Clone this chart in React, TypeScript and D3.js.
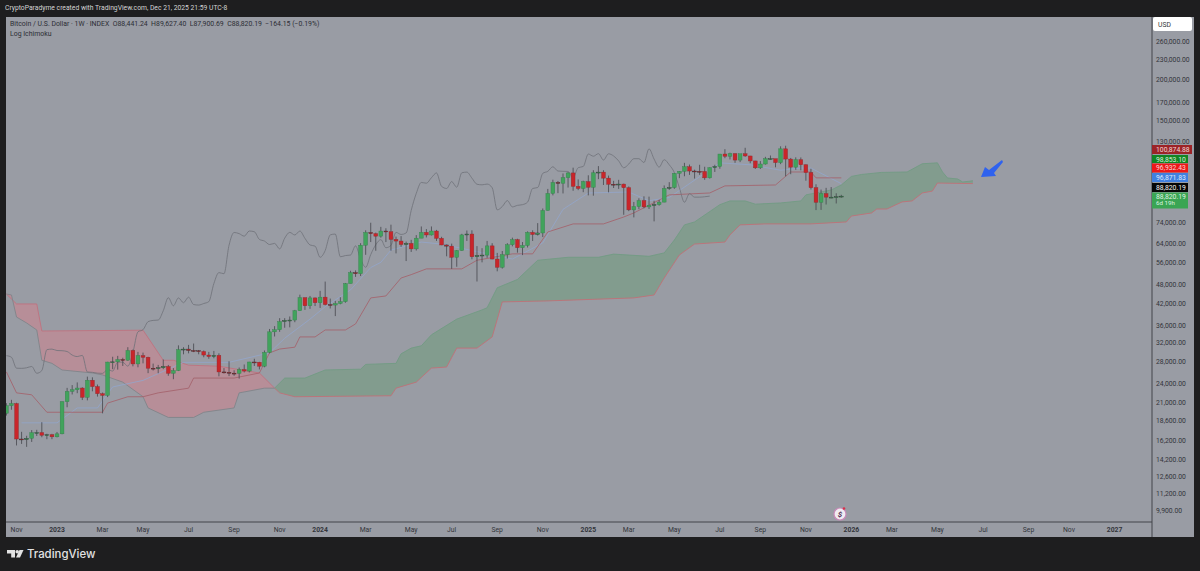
import React from "react";
import * as d3 from "d3";

// Weekly OHLC, one entry per week starting 2022-10-24 (week -10 counted from 2023-01-02)
const firstWeek = -10;
const opens = [
  19570,20620,20930,16350,16280,16430,17090,17100,16780,16840,
  16600,16950,21200,22780,23040,23320,21860,24630,23560,22420,22160,27950,27990,28450,28320,30300,27590,29230,28900,26780,26750,26860,27100,25850,26340,30470,30590,30290,30250,30080,29350,29040,29280,26090,26020,25870,25830,26530,26250,27960,27920,27160,29900,34500,35010,37050,37360,37450,39970,43780,41370,43700,
  42260,43940,41730,41580,42030,42580,48300,52130,51730,63100,68950,68400,67200,69650,69300,65700,64950,63400,63900,61500,66270,69000,67760,69650,66200,63200,62700,58000,60800,67800,68200,58200,58700,58900,62800,57300,54100,59100,63300,65600,62000,63000,69000,68000,68700,80400,90500,97700,97200,101000,104400,95100,93700,
  98300,94500,104500,105000,100700,96500,96100,96600,94200,80700,82600,86100,82400,83300,83700,85200,93700,94300,104100,105600,109000,105800,105600,105500,100900,108300,109200,119100,117300,119400,114200,119300,117500,113500,108200,111100,115300,115300,112200,123500,115000,108700,114500,110500,104700,94200,85100,90400,88200,88200,88441,
];
const highs = [
  20990,21480,21050,17190,16720,17400,17430,18380,16960,16950,
  17170,21250,23350,23800,24250,23450,25250,25130,23900,22600,28000,29000,29180,28800,31000,30500,30000,29850,29000,27650,27400,28450,27400,26800,31400,31000,31500,31800,30400,30300,30000,30200,29700,26800,28100,26400,26900,27480,28000,28600,28000,30300,35200,35900,37950,37950,38400,40200,44700,43800,44300,43800,
  45900,48970,43500,42800,43900,48500,52800,52950,64000,70000,73800,68900,71700,71000,72800,67000,67200,64700,65500,67700,71900,70600,71900,70200,66900,63400,63800,61000,68300,69900,70000,62700,61800,65000,64000,59800,60600,64000,66500,66000,64500,69500,70000,73600,81500,93400,99600,98700,104000,105000,108300,99800,98900,
  102700,106400,109500,106400,102500,98800,99500,96900,95000,85300,87500,88700,88500,86000,86500,95700,97900,104400,105800,112000,110700,106800,110500,109000,108500,110500,119000,123200,120200,119800,117600,124400,117600,113600,113400,116800,117900,113500,125700,126200,115900,116400,116300,110900,107500,96500,93000,94100,94600,90600,89627,
];
const lows = [
  19250,20050,15630,15800,15480,16020,16700,16550,16330,16330,
  16540,16900,20400,22300,22500,21450,21400,22800,21970,19550,21900,26600,26520,27200,28200,27130,26950,27700,25870,26350,25850,26600,25400,24800,26250,29500,29700,29950,29500,28900,28600,28700,25300,25800,25350,25400,24900,26000,26000,27200,26550,26950,29700,33400,34500,35500,35600,36900,39970,40200,40500,41300,
  40750,41500,40600,38500,41800,42250,48400,50600,50900,59000,64500,60700,66500,64500,60700,59600,62400,56500,60200,60800,66300,66600,67500,65000,63100,58400,53500,54300,60700,65000,57200,49000,56000,57800,57200,52600,53600,57500,62600,59900,58900,62100,65000,67500,66800,80300,89300,90700,90500,94300,92200,92600,91300,
  89300,89100,100000,96000,91200,94000,93400,78000,80000,76600,81100,81600,81200,74500,83100,85100,92800,93400,100700,102000,103000,100400,103000,99500,100400,105100,107500,115700,114700,112000,112600,116800,111700,107300,107300,110600,114400,108600,111000,102000,103500,106700,106300,98900,93000,80600,80700,83800,87500,84400,87900,
];
const closes = [
  20620,20930,16350,16280,16430,17090,17100,16780,16840,16600,
  16950,21200,22780,23040,23320,21860,24630,23560,22420,22160,27950,27990,28450,28320,30300,27590,29230,28900,26780,26750,26860,27100,25850,26340,30470,30590,30290,30250,30080,29350,29040,29280,26090,26020,25870,25830,26530,26250,27960,27920,27160,29900,34500,35010,37050,37360,37450,39970,43780,41370,43700,42260,
  43940,41730,41580,42030,42580,48300,52130,51730,63100,68950,68400,67200,69650,69300,65700,64950,63400,63900,61500,66270,69000,67760,69650,66200,63200,62700,58000,60800,67800,68200,58200,58700,58900,62800,57300,54100,59100,63300,65600,62000,63000,69000,68000,68700,80400,90500,97700,97200,101000,104400,95100,93700,98300,
  94500,104500,105000,100700,96500,96100,96600,94200,80700,82600,86100,82400,83300,83700,85200,93700,94300,104100,105600,109000,105800,105600,105500,100900,108300,109200,119100,117300,119400,114200,119300,117500,113500,108200,111100,115300,115300,112200,123500,115000,108700,114500,110500,104700,94200,85100,90400,88200,88200,88441,88820,
];

// Ichimoku lines: week offsets (from 2023-01-02) and prices
const chikouShiftWeeks = 26;
const kijunWeeks = [-10,-8,-5,-2,9,10,14,17,20,26,27,35,40,42,44,47,48,51,53,57,59,62,65,68,70,73,80,83,90,94,97,102,108,112,114,121,129,132,142,145,149,150,155];
const kijunPrices = [26100,22550,22250,19700,19700,21000,21950,21950,22550,23300,25000,25000,25900,29800,30600,31000,33300,33300,34950,34950,36450,43700,44300,50200,51400,53500,53500,56800,59400,59400,69200,73200,73200,76800,79000,89600,90800,95400,96000,105100,105100,100874,100874];
const tenkanWeeks = [-7,0,4,8,11,17,25,34,42,45,50,53,58,62,64,66,72,76,90,96,100,105,113,117,121,131,137,143,147,149,155];
const tenkanPrices = [18300,18300,20300,20300,23500,24600,27900,27900,29800,33000,37700,41100,46200,54000,56000,61000,64500,63600,57300,64100,81000,90800,91400,86000,88000,112000,110500,106400,108000,108000,96871];
const spanAWeeks = [-10,-9,-8,-6,-4,-3,-1,1,7,9,13,17,18,22,27,29,35,36,41,43,45,49,53,60,61,67,68,70,72,74,79,84,85,87,91,95,101,107,110,117,120,122,124,126,131,133,136,138,143,147,148,153,155,157,159,163,168,171,174,175,176,178,179,181];
const spanAPrices = [44900,44600,38250,36700,34950,28300,27700,26450,25900,25550,24300,21950,20300,19000,19000,19700,20300,22550,23300,23300,25000,25000,26450,26600,27500,27700,29600,30800,31300,33800,37700,40200,40800,46900,49700,56800,58000,58000,59300,58400,59800,65400,72700,74200,83700,85900,85900,84000,84700,85900,89600,92700,96000,101900,103300,104800,105100,111300,112000,105100,100800,100100,98000,98853];
const spanBWeeks = [-10,-8,-4,-3,17,21,23,26,32,40,43,44,47,66,67,71,74,77,79,83,86,88,97,114,118,120,123,126,132,133,135,140,149,156,157,161,162,164,167,169,171,173,174,181];
const spanBPrices = [44900,41900,41900,34700,34900,28300,28300,27350,27150,25900,23300,22550,21950,22100,23300,24300,26800,27000,30800,30800,33300,42500,42800,43700,44600,50200,58950,63600,64500,67800,72700,73200,73200,74200,77300,79000,81200,81200,85300,85900,90800,92000,97300,96932];
const cloudFlipWeek = 43;

// Axis labels
const priceTicks = [260000,230000,200000,170000,150000,130000,74000,64000,56000,48000,42000,36000,32000,28000,24000,21000,18600,16200,14200,12600,11200,9900];
const timeTickWeeks = [-8,0,9,17,26,35,44,52,61,70,78,87,96,105,113,122,131,139,148,157,165,174,183,192,200,209];
const timeTickLabels = ["Nov","2023","Mar","May","Jul","Sep","Nov","2024","Mar","May","Jul","Sep","Nov","2025","Mar","May","Jul","Sep","Nov","2026","Mar","May","Jul","Sep","Nov","2027"];
const priceTagValues = [100874.88,98853.10,96932.43,96871.83,88820.19,88820.19];
const priceTagFills = ["#9c2327","#128524","#ee1818","#4180e0","#060606","#3aa553"];
const priceTagColors = ["#f0d5d5","#d8f0d8","#f8d8d8","#dfe9fb","#f2f2f2","#dff3e2"];
const priceTagTops = [145,155,163.5,173,183,192.5];
const priceTagHeights = [9,8,9,9,9,16];
const priceTagRights = [1192,1188,1188,1188,1188,1188];

const W = 1200, H = 571;
const plotL = 6, plotR = 1152, plotT = 17, plotB = 522, panelR = 1194, panelB = 537;
const FONT = "Roboto, 'Liberation Sans', sans-serif";

const x = d3.scaleLinear().domain([0, 209]).range([57, 57 + 209 * 5.06]);
const y = d3.scaleLog().domain([260000, 9900]).range([42, 511]);
const fmt = d3.format(",.2f");

type Pt = [number, number];
const zipPts = (ws: number[], ps: number[]): Pt[] => ws.map((w, i) => [w, ps[i]] as Pt);
const line = d3.line<Pt>().x((d) => x(d[0])).y((d) => y(d[1]));
const lineSmooth = d3.line<Pt>().x((d) => x(d[0])).y((d) => y(d[1])).curve(d3.curveMonotoneX);

const spanA = zipPts(spanAWeeks, spanAPrices);
const spanB = zipPts(spanBWeeks, spanBPrices);
const kijun = zipPts(kijunWeeks, kijunPrices);
const tenkan = zipPts(tenkanWeeks, tenkanPrices);
const chikou: Pt[] = closes
  .map((c, i) => [firstWeek + i - chikouShiftWeeks, c] as Pt)
  .filter((d) => d[0] >= firstWeek);

const cloudPath = (a: Pt[], b: Pt[]) => `${line(a)}L${line(b.slice().reverse())!.slice(1)}Z`;
const before = (s: Pt[]) => s.filter((d) => d[0] <= cloudFlipWeek);
const after = (s: Pt[]) => s.filter((d) => d[0] >= cloudFlipWeek);

export default function App() {
  const bodyW = 3.8;
  return (
    <svg width={W} height={H} viewBox={`0 0 ${W} ${H}`} style={{ position: "fixed", left: 0, top: 0, display: "block" }} fontFamily={FONT}>
      <defs>
        <clipPath id="plot"><rect x={plotL} y={plotT} width={plotR - plotL} height={plotB - plotT} /></clipPath>
      </defs>
      <rect width={W} height={H} fill="#1e1e1f" />
      <rect x={plotL} y={plotT} width={panelR - plotL} height={panelB - plotT} fill="#999ca4" />

      <g clipPath="url(#plot)">
        <path d={cloudPath(before(spanA), before(spanB))} fill="#b78e98" />
        <path d={cloudPath(after(spanA), after(spanB))} fill="#829c8e" />
        <path d={line(before(spanB))!} fill="none" stroke="#c0727f" strokeWidth={0.9} />
        <path d={line(before(spanA))!} fill="none" stroke="#80848a" strokeWidth={0.9} />
        <path d={line(after(spanB))!} fill="none" stroke="#bf7077" strokeWidth={0.9} />
        <path d={line(after(spanA))!} fill="none" stroke="#729b83" strokeWidth={0.9} />
        <path d={line(tenkan)!} fill="none" stroke="#93a6cc" strokeWidth={0.8} />
        <path d={line(kijun)!} fill="none" stroke="#a4626c" strokeWidth={0.85} />
        <path d={lineSmooth(chikou)!} fill="none" stroke="#6e7178" strokeWidth={0.8} />

        {closes.map((c, i) => {
          const w = firstWeek + i;
          const o = opens[i];
          const up = c >= o;
          const top = y(Math.max(o, c));
          const bot = y(Math.min(o, c));
          return (
            <g key={w}>
              <line x1={x(w)} x2={x(w)} y1={y(highs[i])} y2={y(lows[i])} stroke="#45464c" strokeWidth={0.8} />
              <rect x={x(w) - bodyW / 2} y={top} width={bodyW} height={Math.max(bot - top, 0.9)}
                fill={up ? "#41a35c" : "#c9252a"} stroke={Math.abs(bot - top) < 1.5 ? "#2a2a2e" : up ? "#34804b" : "#8f2a2e"} strokeWidth={0.4} />
            </g>
          );
        })}
      </g>

      {/* arrow annotation */}
      <polygon points="981,177 985,167 989,170 1002,160 1003,162 994,173 996,176" fill="#2f62ee" />

      {/* frame lines */}
      <line x1={plotL} x2={plotR} y1={plotB} y2={plotB} stroke="#42444a" strokeWidth={1} />
      <line x1={plotR} x2={plotR} y1={plotT} y2={panelB} stroke="#42444a" strokeWidth={1} />

      {/* header */}
      <text x={5} y={10} fontSize={6.75} fill="#d4d4d4">CryptoParadyme created with TradingView.com, Dec 21, 2025 21:59 UTC-8</text>
      <text x={10} y={25.5} fontSize={6.9} fill="#2c2e34">Bitcoin / U.S. Dollar · 1W · INDEX&#160; O88,441.24&#160; H89,627.40&#160; L87,900.69&#160; C88,820.19&#160; −164.15 (−0.19%)</text>
      <text x={10} y={35.5} fontSize={6.9} fill="#2c2e34">Log Ichimoku</text>

      {/* price axis */}
      <rect x={1153} y={17} width={39} height={14} rx={2} fill="#ffffff" />
      <text x={1158} y={27} fontSize={6.8} fill="#33353b">USD</text>
      {priceTicks.map((p) => (
        <text key={p} x={1156} y={y(p) + 2.4} fontSize={6.8} fill="#33353b">{fmt(p)}</text>
      ))}
      {priceTagValues.map((v, i) => (
        <g key={i}>
          <rect x={plotR} y={priceTagTops[i]} width={priceTagRights[i] - plotR} height={priceTagHeights[i]} fill={priceTagFills[i]} />
          <text x={1156} y={priceTagTops[i] + 6.8} fontSize={6.8} fill={priceTagColors[i]}>{fmt(v)}</text>
        </g>
      ))}
      <text x={1156} y={205} fontSize={6.2} fill="#dff3e2">6d 19h</text>

      {/* time axis */}
      {timeTickWeeks.map((w, i) => {
        const isYear = /^\d/.test(timeTickLabels[i]);
        return (
          <text key={w} x={x(w)} y={532} textAnchor="middle" fontSize={6.8} fontWeight={isYear ? 700 : 400} fill="#33353b">{timeTickLabels[i]}</text>
        );
      })}

      {/* event badge */}
      <circle cx={840} cy={514} r={6} fill="#f0ebf1" stroke="#c988b8" strokeWidth={1.2} />
      <text x={840} y={517} textAnchor="middle" fontSize={8} fontWeight={700} fontStyle="italic" fill="#4b2b50">$</text>
      <circle cx={844} cy={508.5} r={1.3} fill="#d8324a" />

      {/* footer logo */}
      <g fill="#e2e2e2">
        <path d="M7 550H15V557.5H11.2V553.4H7Z" />
        <circle cx={17.2} cy={551.8} r={1.8} />
        <path d="M19.5 550H23.5L20 557.5H16Z" />
      </g>
      <text x={27} y={558} fontSize={11.4} fontWeight={500} fill="#e2e2e2" fontFamily="Inter, Roboto, sans-serif">TradingView</text>
    </svg>
  );
}
